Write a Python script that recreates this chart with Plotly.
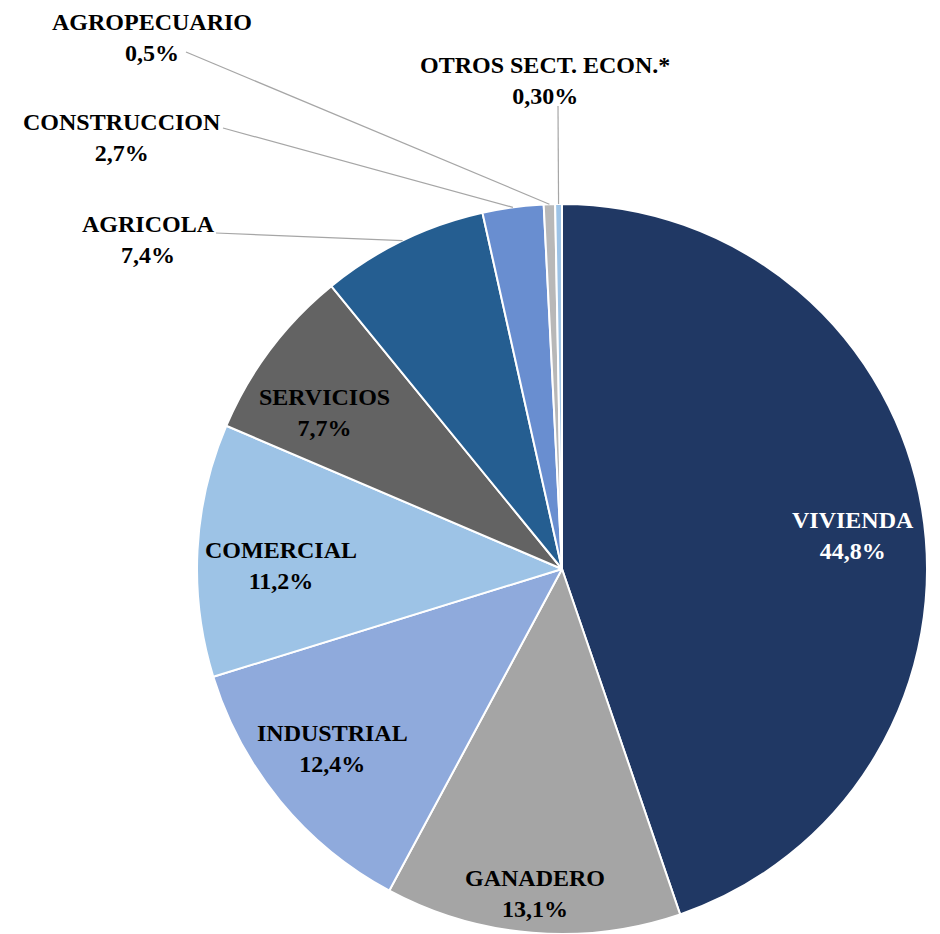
import numpy as np
import plotly.graph_objects as go

# data (clockwise from 12 o'clock)
sectors = ["VIVIENDA", "GANADERO", "INDUSTRIAL", "COMERCIAL", "SERVICIOS",
           "AGRICOLA", "CONSTRUCCION", "AGROPECUARIO", "OTROS SECT. ECON.*"]
shares = [44.8, 13.1, 12.4, 11.2, 7.7, 7.4, 2.7, 0.5, 0.3]
share_text = ["44,8%", "13,1%", "12,4%", "11,2%", "7,7%", "7,4%", "2,7%", "0,5%", "0,30%"]
colors = ["#203864", "#a5a5a5", "#8faadc", "#9dc3e6", "#636363",
          "#255e91", "#698ed0", "#b8b8b8", "#9dc3e6"]

# the page body has an 8px margin, so work in window pixels and shift
OFF = 8
W, H = 940 - OFF, 934 - OFF
cx, cy, R = 562, 569, 365

# label centres (window pixels)
label_pos = [(853, 535), (535, 893), (332, 748), (281, 565), (324, 412),
             (148, 240), (122, 137), (152, 37), (545, 80)]
text_color = ["white"] + ["black"] * 8
# leader line start points (window pixels) for outside labels
leader_start = [None, None, None, None, None,
                (216, 233), (223, 128), (186, 52), (558, 106)]


def px(x, y):
    return (x - OFF) / W, 1 - (y - OFF) / H


fig = go.Figure(go.Pie(
    labels=sectors,
    values=shares,
    sort=False,
    direction="clockwise",
    rotation=0,
    textinfo="none",
    hoverinfo="label+percent",
    marker=dict(colors=colors, line=dict(color="white", width=2)),
    domain=dict(x=[(cx - R - OFF) / W, (cx + R - OFF) / W],
                y=[max(0, 1 - (cy + R - OFF) / H), 1 - (cy - R - OFF) / H]),
    showlegend=False,
))

total = sum(shares)
cum = np.cumsum([0] + shares)
shapes = []
annotations = []
for i, name in enumerate(sectors):
    x, y = px(*label_pos[i])
    annotations.append(dict(
        x=x, y=y, xref="paper", yref="paper", showarrow=False,
        xanchor="center", yanchor="middle",
        text=f"<b>{name}</b><br><b>{share_text[i]}</b>",
        font=dict(family="Liberation Serif", size=24, color=text_color[i]),
        align="center",
    ))
    if leader_start[i] is not None:
        mid = (cum[i] + shares[i] / 2) / total * 2 * np.pi
        ex = cx + R * np.sin(mid)
        ey = cy - R * np.cos(mid)
        x0, y0 = px(*leader_start[i])
        x1, y1 = px(ex, ey)
        shapes.append(dict(type="line", xref="paper", yref="paper",
                           x0=x0, y0=y0, x1=x1, y1=y1,
                           line=dict(color="#a6a6a6", width=1.2)))

fig.update_layout(
    width=W, height=H,
    margin=dict(l=0, r=0, t=0, b=0),
    paper_bgcolor="white",
    plot_bgcolor="white",
    shapes=shapes,
    annotations=annotations,
)

fig.write_html("out.html")
